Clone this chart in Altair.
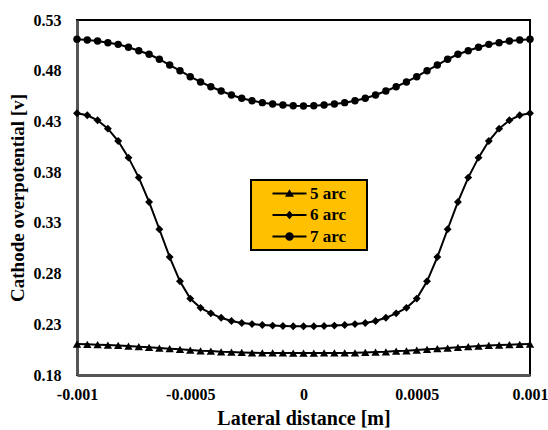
import altair as alt
import pandas as pd

# Lateral positions along the cathode [m]
lateral_m = [
    -0.001, -0.00095455, -0.00090909, -0.00086364, -0.00081818, -0.00077273,
    -0.00072727, -0.00068182, -0.00063636, -0.00059091, -0.00054545, -0.0005,
    -0.00045455, -0.00040909, -0.00036364, -0.00031818, -0.00027273, -0.00022727,
    -0.00018182, -0.00013636, -0.00009091, -0.00004545, 0.0,
    0.00004545, 0.00009091, 0.00013636, 0.00018182, 0.00022727, 0.00027273,
    0.00031818, 0.00036364, 0.00040909, 0.00045455, 0.0005, 0.00054545,
    0.00059091, 0.00063636, 0.00068182, 0.00072727, 0.00077273, 0.00081818,
    0.00086364, 0.00090909, 0.00095455, 0.001,
]

# Cathode overpotential [V] for each arc count
arc5 = [
    0.2105, 0.2102, 0.2099, 0.2095, 0.2092, 0.2085, 0.2079, 0.2073, 0.2066,
    0.2059, 0.2053, 0.2046, 0.2039, 0.2036, 0.2029, 0.2026, 0.2023, 0.2019,
    0.2018, 0.2017, 0.2017, 0.2016, 0.2016,
    0.2016, 0.2017, 0.2017, 0.2018, 0.2019, 0.2023, 0.2026, 0.2029, 0.2036,
    0.2039, 0.2046, 0.2053, 0.2059, 0.2066, 0.2073, 0.2079, 0.2085, 0.2092,
    0.2095, 0.2099, 0.2102, 0.2105,
]
arc6 = [
    0.4380, 0.4361, 0.4311, 0.4229, 0.4107, 0.3943, 0.3746, 0.3506, 0.3237,
    0.2963, 0.2724, 0.2553, 0.2462, 0.2408, 0.2364, 0.2332, 0.2313, 0.2302,
    0.2293, 0.2287, 0.2283, 0.2281, 0.2280,
    0.2281, 0.2283, 0.2287, 0.2293, 0.2302, 0.2313, 0.2332, 0.2364, 0.2408,
    0.2462, 0.2553, 0.2724, 0.2963, 0.3237, 0.3506, 0.3746, 0.3943, 0.4107,
    0.4229, 0.4311, 0.4361, 0.4380,
]
arc7 = [
    0.5110, 0.5103, 0.5093, 0.5076, 0.5060, 0.5031, 0.4997, 0.4962, 0.4913,
    0.4856, 0.4800, 0.4741, 0.4689, 0.4642, 0.4600, 0.4561, 0.4528, 0.4504,
    0.4485, 0.4472, 0.4462, 0.4455, 0.4452,
    0.4455, 0.4462, 0.4472, 0.4485, 0.4504, 0.4528, 0.4561, 0.4600, 0.4642,
    0.4689, 0.4741, 0.4800, 0.4856, 0.4913, 0.4962, 0.4997, 0.5031, 0.5060,
    0.5076, 0.5093, 0.5103, 0.5110,
]

series_names = ["5 arc", "6 arc", "7 arc"]
y_ticks = [0.18, 0.23, 0.28, 0.33, 0.38, 0.43, 0.48, 0.53]
x_ticks = [-0.001, -0.0005, 0, 0.0005, 0.001]

frames = []
for name, vals in zip(series_names, [arc5, arc6, arc7]):
    frames.append(pd.DataFrame({"x": lateral_m, "v": vals, "series": name}))
df = pd.concat(frames, ignore_index=True)

FONT = "Liberation Serif"

x_enc = alt.X(
    "x:Q",
    scale=alt.Scale(domain=[-0.001, 0.001], nice=False),
    axis=alt.Axis(
        values=x_ticks,
        labelExpr="toString(datum.value)",
        labelFlush=False,
        title="Lateral distance [m]",
        titleFontSize=20,
        labelPadding=11,
        titlePadding=6,
    ),
)
y_enc = alt.Y(
    "v:Q",
    scale=alt.Scale(domain=[0.18, 0.53], nice=False, zero=False),
    axis=alt.Axis(
        values=y_ticks,
        format=".2f",
        title="Cathode overpotential [v]",
        titleFontSize=19,
        labelPadding=16,
        titlePadding=6,
    ),
)

marker_shapes = ["triangle-up", "diamond", "circle"]
marker_sizes = [70, 55, 70]

# Legend glyphs: a short line segment with the series marker on it; the
# trailing zero-length subpath widens the legend box on the right.
legend_paths = [
    "M-3.4,-0.22L3.4,-0.22L3.4,0.22L-3.4,0.22Z M0,-0.85L0.9,0.65L-0.9,0.65Z "
    "M14.3,0L14.3,0",
    "M-3.4,-0.22L3.4,-0.22L3.4,0.22L-3.4,0.22Z M0,-0.85L0.75,0L0,0.85L-0.75,0Z "
    "M14.3,0L14.3,0",
    "M-3.4,-0.22L3.4,-0.22L3.4,0.22L-3.4,0.22Z "
    "M0.85,0A0.85,0.85,0,1,1,-0.85,0A0.85,0.85,0,1,1,0.85,0Z "
    "M14.3,0L14.3,0",
]

base = alt.Chart(df)

lines = base.mark_line(color="black", strokeWidth=2).encode(
    x=x_enc, y=y_enc, detail="series:N"
)

points = base.mark_point(filled=True, color="black", opacity=1).encode(
    x=x_enc,
    y=y_enc,
    shape=alt.Shape(
        "series:N",
        scale=alt.Scale(domain=series_names, range=marker_shapes),
        legend=None,
    ),
    size=alt.Size(
        "series:N",
        scale=alt.Scale(domain=series_names, range=marker_sizes),
        legend=None,
    ),
)

legend_layer = base.mark_point(filled=True, color="black", opacity=0).encode(
    x=x_enc,
    y=y_enc,
    shape=alt.Shape(
        "series:N",
        scale=alt.Scale(domain=series_names, range=legend_paths),
        legend=alt.Legend(
            title=None,
            orient="none",
            legendX=174,
            legendY=160,
            fillColor="#FFC000",
            strokeColor="black",
            padding=5,
            symbolSize=100,
            symbolOffset=25,
            symbolOpacity=1,
            symbolFillColor="black",
            symbolStrokeColor="black",
            symbolStrokeWidth=0.3,
            labelOffset=12,
            rowPadding=3.5,
            labelFont=FONT,
            labelFontSize=17,
            labelFontWeight="bold",
            labelColor="black",
        ),
    ),
)

chart = (
    alt.layer(lines, points, legend_layer)
    .resolve_scale(shape="independent", size="independent")
    .properties(
        width=453,
        height=355,
        autosize=alt.AutoSizeParams(type="none"),
        padding={"left": 77, "top": 20, "right": 18, "bottom": 55},
    )
    .configure_view(stroke="black", strokeWidth=2)
    .configure_axis(
        labelFont=FONT,
        labelFontSize=16,
        labelFontWeight="bold",
        labelColor="black",
        titleFont=FONT,
        titleFontWeight="bold",
        titleColor="black",
        ticks=False,
        grid=False,
        domainColor="#555555",
        domainWidth=3,
    )
    .configure_legend(strokeWidth=2)
)

chart.save("out.html", embed_options={"renderer": "svg", "actions": False})
